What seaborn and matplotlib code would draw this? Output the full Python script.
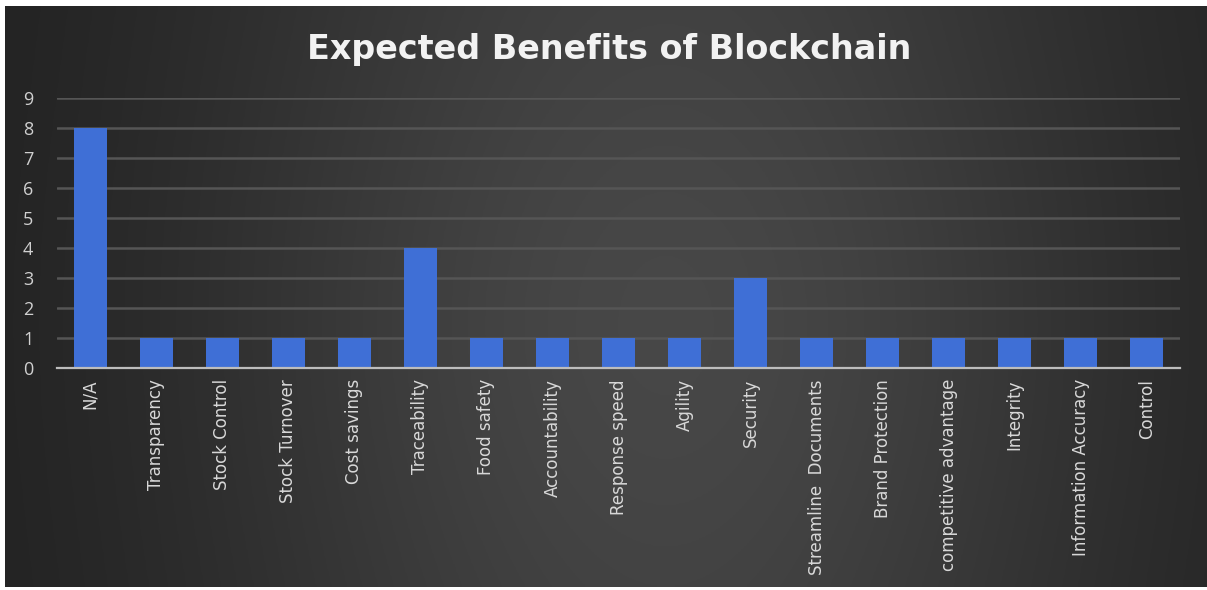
import numpy as np
import pandas as pd
import matplotlib
matplotlib.use("Agg")
import matplotlib.pyplot as plt
import seaborn as sns

# Survey responses: expected benefits of blockchain
benefits = [
    "N/A", "Transparency", "Stock Control", "Stock Turnover", "Cost savings",
    "Traceability", "Food safety", "Accountability", "Response speed", "Agility",
    "Security", "Streamline  Documents", "Brand Protection", "competitive advantage",
    "Integrity", "Information Accuracy", "Control",
]
counts = [8, 1, 1, 1, 1, 4, 1, 1, 1, 1, 3, 1, 1, 1, 1, 1, 1]
y_ticks = list(range(0, 10))

df = pd.DataFrame({"benefit": benefits, "count": counts})

sns.set_theme(style="dark")
W, H = 1207, 590
fig = plt.figure(figsize=(W / 100, H / 100), dpi=100, facecolor="white")

# Dark chart-area backdrop with a soft lighter centre
bg = fig.add_axes([5 / W, 3 / H, 1 - 5 / W, 1 - 9 / H], zorder=0)
xx, yy = np.meshgrid(np.linspace(0, 1, 400), np.linspace(0, 1, 200))
glow = np.exp(-((xx - 0.55) / 0.40) ** 2) * (0.75 + 0.25 * np.exp(-((yy - 0.55) / 0.6) ** 2))
shade = 0.12 + 0.16 * glow
bg.imshow(np.dstack([shade, shade, shade]), aspect="auto", extent=[0, 1, 0, 1])
bg.set_axis_off()

ax = fig.add_axes([57 / W, 1 - 368 / H, (1180 - 57) / W, (368 - 98) / H], zorder=1)
ax.patch.set_alpha(0)

sns.barplot(data=df, x="benefit", y="count", color="#3f6fd6", width=0.5,
            saturation=1, linewidth=0, edgecolor="none", ax=ax, zorder=3)

ax.set_ylim(0, 9)
ax.set_xlim(-0.5, len(benefits) - 0.5)
ax.set_yticks(y_ticks)
ax.set_yticklabels([str(v) for v in y_ticks], color="#d0d0d0", fontsize=13,
                   family="Open Sans")
ax.yaxis.grid(True, color="#555555", linewidth=1.8, zorder=0)
ax.xaxis.grid(False)
ax.tick_params(axis="both", length=0)
ax.tick_params(axis="y", pad=17)
ax.tick_params(axis="x", pad=8)
ax.set_xticks(range(len(benefits)))
ax.set_xticklabels(benefits, rotation=90, color="#d8d8d8", fontsize=12,
                   family=["Liberation Sans Narrow", "DejaVu Sans"], va="top")
for side in ["top", "right", "left"]:
    ax.spines[side].set_visible(False)
ax.spines["bottom"].set_color("#bdbdbd")
ax.spines["bottom"].set_linewidth(1.6)
ax.spines["bottom"].set_zorder(4)
ax.set_xlabel("")
ax.set_ylabel("")

fig.text(0.505, 1 - 49 / H, "Expected Benefits of Blockchain", ha="center", va="center",
         color="#f2f2f2", fontsize=24, fontweight="bold", family="DejaVu Sans", zorder=5)

fig.savefig("out.png", dpi=100, facecolor="white")
